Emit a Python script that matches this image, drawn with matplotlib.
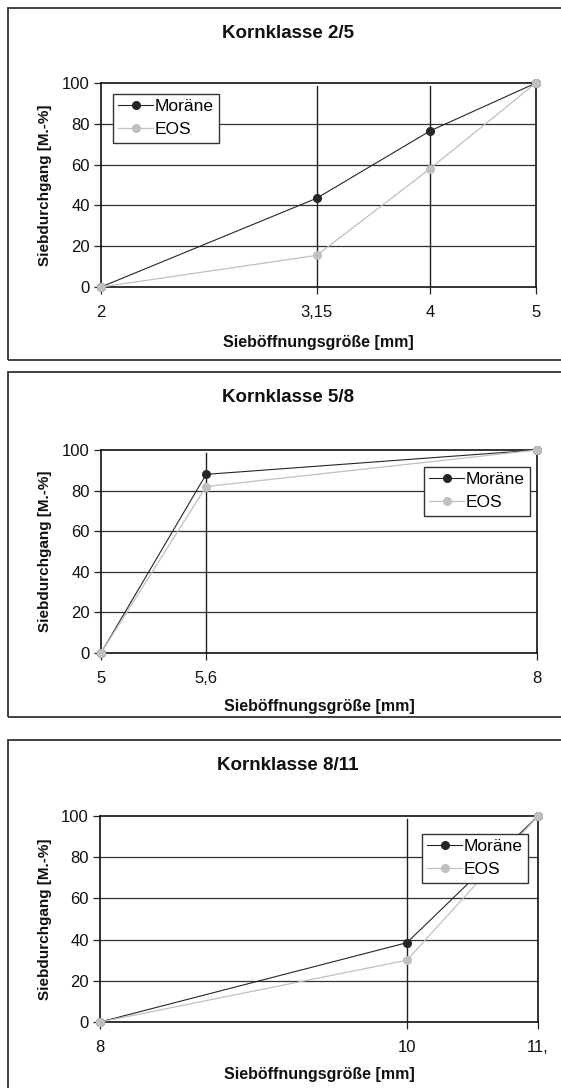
import matplotlib
matplotlib.use("Agg")
import matplotlib.pyplot as plt
from matplotlib.patches import Rectangle
from matplotlib.ticker import NullLocator

plt.rcParams['font.family'] = ['Liberation Sans', 'DejaVu Sans']

# Sieve sizes [mm] and passing fractions [M.-%] per grain class
titles = ["Kornklasse 2/5", "Kornklasse 5/8", "Kornklasse 8/11"]

sizes_25 = [2, 3.15, 4, 5]
ticklabels_25 = ["2", "3,15", "4", "5"]
morane_25 = [0, 43.5, 76.5, 100]
eos_25 = [0, 15.5, 58, 100]

sizes_58 = [5, 5.6, 8]
ticklabels_58 = ["5", "5,6", "8"]
morane_58 = [0, 88, 100]
eos_58 = [0, 82, 100]

sizes_811 = [8, 10, 11]
ticklabels_811 = ["8", "10", "11,"]
morane_811 = [0, 38.5, 100]
eos_811 = [0, 30, 100]

series_names = ["Moräne", "EOS"]
y_ticks = [0, 20, 40, 60, 80, 100]

W, H = 561, 1088
fig = plt.figure(figsize=(W / 100, H / 100), dpi=100)

def fx(px):
    return px / W

def fy(py):
    return 1 - py / H

panels = [
    dict(sizes=sizes_25, labels=ticklabels_25, m=morane_25, e=eos_25,
         box=(8, 8, 568, 360), ax=(101, 83, 536, 287), title_y=33, xlabel_y=342,
         leg=(113, 94)),
    dict(sizes=sizes_58, labels=ticklabels_58, m=morane_58, e=eos_58,
         box=(8, 372, 568, 717), ax=(101, 450, 537, 653), title_y=397, xlabel_y=707,
         leg=(424, 467)),
    dict(sizes=sizes_811, labels=ticklabels_811, m=morane_811, e=eos_811,
         box=(8, 740, 568, 1100), ax=(100, 816, 538, 1022), title_y=765, xlabel_y=1075,
         leg=(422, 834)),
]

dark = "#262626"
light = "#c0c0c0"

for title, p in zip(titles, panels):
    # frame around each chart
    bx0, by0, bx1, by1 = p["box"]
    fig.patches.append(Rectangle((fx(bx0), fy(by1)), fx(bx1 - bx0), (by1 - by0) / H,
                                 transform=fig.transFigure, fill=False,
                                 edgecolor="#333333", linewidth=1.3))
    ax0, ay0, ax1, ay1 = p["ax"]
    ax = fig.add_axes([fx(ax0), fy(ay1), fx(ax1 - ax0), (ay1 - ay0) / H])
    ax.set_xscale("log")
    xs = p["sizes"]
    ax.set_xlim(xs[0], xs[-1])
    ax.set_ylim(0, 100)

    # horizontal grid
    for yv in y_ticks[1:-1]:
        ax.axhline(yv, color="#303030", linewidth=0.9, zorder=1)
    # vertical lines at intermediate sieve sizes
    for xv in xs[1:-1]:
        ax.axvline(xv, ymin=0, ymax=0.985, color="#202020", linewidth=1.0, zorder=1)

    ax.plot(xs, p["m"], color=dark, linewidth=0.8, marker="o", markersize=5.5,
            markerfacecolor=dark, markeredgecolor=dark, label=series_names[0],
            zorder=3, clip_on=False)
    ax.plot(xs, p["e"], color=light, linewidth=0.9, marker="o", markersize=5.5,
            markerfacecolor=light, markeredgecolor=light, label=series_names[1],
            zorder=4, clip_on=False)

    ax.set_xticks(xs)
    ax.set_xticklabels(p["labels"])
    ax.xaxis.set_minor_locator(NullLocator())
    ax.set_yticks(y_ticks)
    ax.tick_params(axis="both", direction="out", length=5, width=0.9, color="#222222",
                   labelsize=12, labelcolor="#111111")
    ax.tick_params(axis="x", pad=8)
    ax.tick_params(axis="y", pad=3)
    for s in ax.spines.values():
        s.set_color("#111111")
        s.set_linewidth(1.2)

    fig.text(fx((bx0 + bx1) / 2), fy(p["title_y"]), title, ha="center", va="center",
             fontsize=13.5, fontweight="bold", color="#111111")
    fig.text(fx((ax0 + ax1) / 2), fy(p["xlabel_y"]), "Sieböffnungsgröße [mm]",
             ha="center", va="center", fontsize=11.5, fontweight="bold", color="#111111")
    fig.text(fx(45), fy((ay0 + ay1) / 2), "Siebdurchgang [M.-%]", rotation=90,
             ha="center", va="center", fontsize=11, fontweight="bold", color="#111111")

    lx, ly = p["leg"]
    leg = ax.legend(loc="upper left", bbox_to_anchor=(fx(lx), fy(ly)),
                    bbox_transform=fig.transFigure, borderaxespad=0,
                    fontsize=12.5, frameon=True, fancybox=False, framealpha=1,
                    edgecolor="#333333", handlelength=2.0, handletextpad=0.1,
                    borderpad=0.3, labelspacing=0.45)
    leg.get_frame().set_linewidth(1.0)
    leg.set_zorder(10)

fig.savefig("out.png", dpi=100, facecolor="white")
